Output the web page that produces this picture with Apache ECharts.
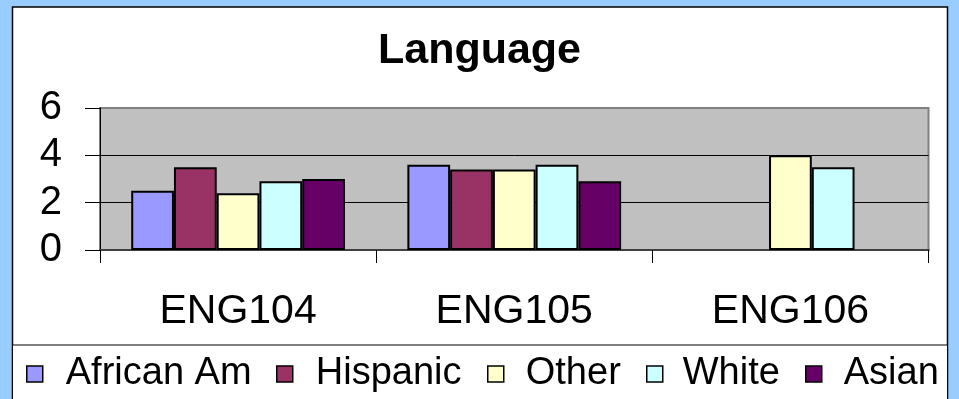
<!DOCTYPE html>
<html>
<head>
<meta charset="utf-8">
<script src="https://cdn.jsdelivr.net/npm/echarts@6/dist/echarts.min.js"></script>
<style>
  html, body { margin: 0; padding: 0; background: #99CCFF; }
  #chart { width: 959px; height: 399px; }
</style>
</head>
<body>
<div id="chart"></div>
<script>
// Course categories and mean scores by group
const courses = ['ENG104', 'ENG105', 'ENG106'];
const groups = ['African Am', 'Hispanic', 'Other', 'White', 'Asian'];
const africanAm = [2.5, 3.6, null];
const hispanic = [3.5, 3.4, null];
const other = [2.4, 3.4, 4.0];
const white = [2.9, 3.6, 3.5];
const asian = [3.0, 2.9, null];
const yTicks = [0, 2, 4, 6];

const groupColors = ['#9999FF', '#993366', '#FFFFCC', '#CCFFFF', '#660066'];
const groupValues = [africanAm, hispanic, other, white, asian];
// legend row placement: swatch left edge and gap before the label text
const legendLefts = [26, 276, 487, 646, 805];
const legendTextGaps = [18, 18, 17, 15, 17];

const FONT = 'Liberation Sans, Arial, sans-serif';

const chart = echarts.init(document.getElementById('chart'));

const series = groups.map((name, i) => ({
  name: name,
  type: 'bar',
  data: groupValues[i],
  barGap: '0%',
  barCategoryGap: '22.6%',
  itemStyle: { color: groupColors[i], borderColor: '#000', borderWidth: 2 },
  emphasis: { disabled: true }
}));

const legends = groups.map((name, i) => ({
  data: [name],
  left: legendLefts[i],
  top: 355,
  padding: 0,
  itemWidth: 16,
  itemHeight: 16,
  icon: 'rect',
  itemStyle: { borderColor: '#000', borderWidth: 1.5 },
  selectedMode: false,
  textStyle: {
    fontFamily: FONT,
    fontSize: 38,
    lineHeight: 38,
    color: '#000',
    padding: [0, 0, 0, legendTextGaps[i]]
  }
}));

chart.setOption({
  backgroundColor: '#99CCFF',
  animation: false,
  graphic: [
    {
      type: 'rect', z: -10, silent: true,
      shape: { x: 12.5, y: 7, width: 935, height: 420 },
      style: { fill: '#fff', stroke: '#000', lineWidth: 1.5 }
    },
    {
      type: 'rect', z: -9, silent: true,
      shape: { x: 12.5, y: 345, width: 935, height: 80 },
      style: { fill: '#fff', stroke: '#000', lineWidth: 1 }
    }
  ],
  title: {
    text: 'Language',
    left: 'center',
    top: 30,
    padding: 0,
    textStyle: {
      fontFamily: FONT,
      fontSize: 43,
      lineHeight: 43,
      fontWeight: 'bold',
      color: '#000'
    }
  },
  legend: legends,
  grid: {
    left: 100,
    top: 108,
    right: 30.5,
    bottom: 149,
    show: true,
    backgroundColor: '#C0C0C0',
    borderColor: '#808080',
    borderWidth: 2
  },
  xAxis: {
    type: 'category',
    data: courses,
    axisLine: { show: true, lineStyle: { color: '#404040', width: 2 } },
    axisTick: { show: true, length: 13, lineStyle: { color: '#000', width: 1 } },
    axisLabel: {
      fontFamily: FONT,
      fontSize: 41,
      lineHeight: 41,
      color: '#000',
      margin: 41
    },
    splitLine: { show: false }
  },
  yAxis: {
    type: 'value',
    min: yTicks[0],
    max: yTicks[yTicks.length - 1],
    interval: 2,
    axisLine: { show: true, lineStyle: { color: '#000', width: 1 } },
    axisTick: { show: true, length: 15, lineStyle: { color: '#000', width: 1 } },
    axisLabel: {
      fontFamily: FONT,
      fontSize: 40,
      lineHeight: 40,
      color: '#000',
      margin: 38
    },
    splitLine: {
      show: true,
      lineStyle: { color: ['#404040', '#000', '#000', '#808080'], width: 1 }
    }
  },
  series: series
});
</script>
</body>
</html>
